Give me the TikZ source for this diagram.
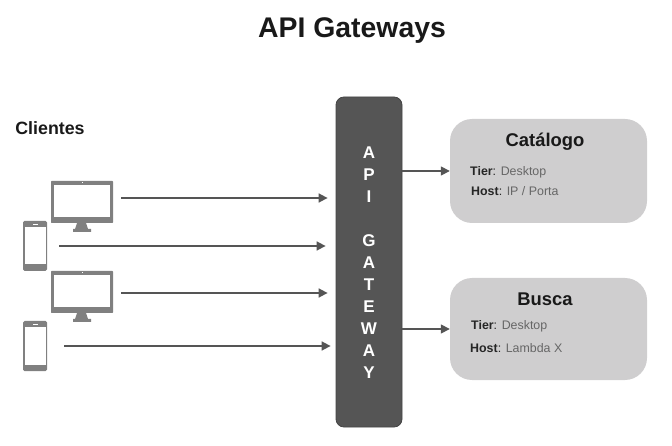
\documentclass[tikz,border=0pt]{standalone}
\usepackage{fontspec}
\setmainfont{Liberation Sans}
\usepackage{xcolor}
\usetikzlibrary{shapes, arrows.meta, positioning}
\definecolor{darkgw}{HTML}{555555}
\definecolor{boxgray}{HTML}{CFCECF}
\definecolor{devgray}{HTML}{808080}
\definecolor{infogray}{HTML}{666666}
\definecolor{labelgray}{HTML}{262626}

\begin{document}
\begin{tikzpicture}
  [
    x=1pt, y=-1pt,
    Gate/.style={rectangle, draw=darkgw!80!black, line width=0.8pt, fill=darkgw, rounded corners=8pt, minimum width=66pt, minimum height=330pt},
    Service/.style={rectangle, fill=boxgray, rounded corners=22pt, minimum width=197pt},
    Title/.style={font=\bfseries\fontsize{18.4}{20}\selectfont, text=black!90},
    Info/.style={anchor=west, inner sep=0pt, text=infogray, font=\fontsize{12.4}{14}\selectfont},
    Arrow/.style={-{Triangle[length=9pt, width=9pt]}, draw=darkgw, line width=1.6pt},
    Monitor/.pic={
      \fill[devgray, rounded corners=0.7pt] (0,0) rectangle (62,42);
      \fill[white] (3,4) rectangle (59,36);
      \fill[white] (30.5,1.5) rectangle (31.5,2.5);
      \fill[devgray] (26,42) -- (35,42) -- (37,48) -- (40,48) -- (40,51) -- (22,51) -- (22,48) -- (24,48) -- cycle;
    },
    Phone/.pic={
      \fill[devgray, rounded corners=1.5pt] (0,0) rectangle (24,50);
      \fill[white] (2,6.5) rectangle (22.5,43.5);
      \fill[white] (10,3) rectangle (15,4);
    }
  ]
  \useasboundingbox (0,0) rectangle (672,446);
  % Titles
  \node[font=\bfseries\fontsize{28.4}{30}\selectfont, text=black!90] (title) at(352, 31) {API Gateways};
  \node[font=\bfseries\fontsize{17.8}{19}\selectfont, text=black!90] (clients) at(50, 128) {Clientes};

  % Gateway
  \node[Gate] (gw) at(369, 262) {};
  \node[align=center, text=white, font=\bfseries\fontsize{17}{22}\selectfont] (gwtext) at(369, 263)
    {A\\P\\I\\[22pt]G\\A\\T\\E\\W\\A\\Y};

  % Services
  \node[Service, minimum height=104pt] (cat) at(548.5, 171) {};
  \node[Service, minimum height=102pt] (busca) at(548.5, 329) {};
  \node[Title] (cattitle) at(545, 142) {Catálogo};
  \node[Title] (buscatitle) at(545, 299) {Busca};
  \node[Info] (cattier) at(470, 172) {\textcolor{labelgray}{\textbf{Tier}:} Desktop};
  \node[Info] (cathost) at(471, 191) {\textcolor{labelgray}{\textbf{Host}:} IP / Porta};
  \node[Info] (buscatier) at(471, 326) {\textcolor{labelgray}{\textbf{Tier}:} Desktop};
  \node[Info] (buscahost) at(470, 348) {\textcolor{labelgray}{\textbf{Host}:} Lambda X};

  % Clients
  \pic at(51, 181) {Monitor};
  \pic at(23, 221) {Phone};
  \pic at(51, 271) {Monitor};
  \pic at(23, 321) {Phone};

  % Free ends of the client lines
  \coordinate (c1) at(121, 198);
  \coordinate (c2) at(59, 246);
  \coordinate (c3) at(121, 293);
  \coordinate (c4) at(64, 346);

  % Lines
  % clients -> gateway
  \path [Arrow, draw, shorten >=8pt] (c1) to (gw.west |- c1);
  \path [Arrow, draw, shorten >=10pt] (c2) to (gw.west |- c2);
  \path [Arrow, draw, shorten >=8pt] (c3) to (gw.west |- c3);
  \path [Arrow, draw, shorten >=5pt] (c4) to (gw.west |- c4);
  % gateway -> services
  \path [Arrow, draw] (gw.east |- cat) to (cat.west);
  \path [Arrow, draw] (gw.east |- busca) to (busca.west);

\end{tikzpicture}
\end{document}
